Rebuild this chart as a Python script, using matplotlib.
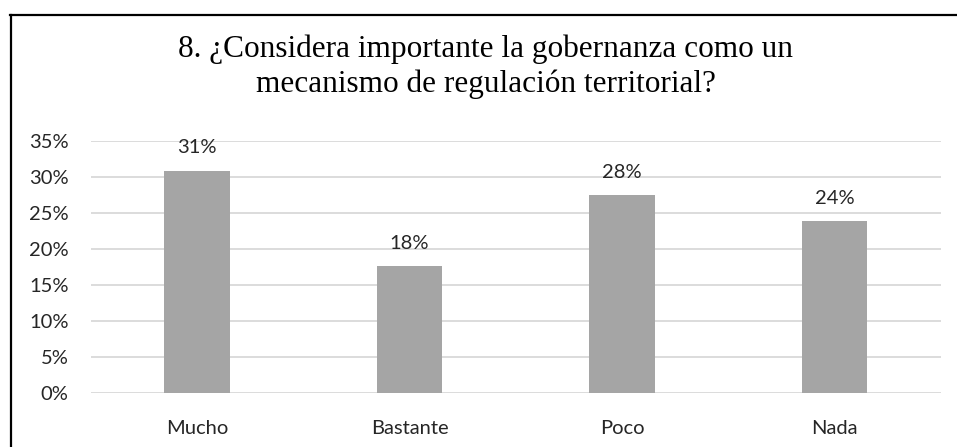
import matplotlib.pyplot as plt
from matplotlib.lines import Line2D

# datos de la encuesta (pregunta 8)
categorias = ["Mucho", "Bastante", "Poco", "Nada"]
porcentajes = [30.9, 17.6, 27.5, 23.9]
yticks = [0, 5, 10, 15, 20, 25, 30, 35]
titulo = ["8. ¿Considera importante la gobernanza como un",
          "mecanismo de regulación territorial?"]

W, H = 957, 447
fig = plt.figure(figsize=(W / 100, H / 100), dpi=100)
ax = fig.add_axes([90.7 / W, 1 - 393.3 / H, 850 / W, 252.3 / H])

x = range(len(categorias))
ax.bar(x, porcentajes, width=0.31, color="#A5A5A5", zorder=3)
for xi, v in zip(x, porcentajes):
    ax.annotate(f"{round(v)}%", (xi, v), xytext=(0, 23), textcoords="offset pixels",
                ha="center", va="center", fontsize=14.5, family="Lato", color="#262626")

ax.set_xlim(-0.5, len(categorias) - 0.5)
ax.set_ylim(0, 35)
ax.set_yticks(yticks)
ax.set_yticklabels([f"{t}%" for t in yticks])
ax.set_xticks(list(x))
ax.set_xticklabels(categorias)
ax.yaxis.grid(True, color="#D9D9D9", linewidth=1.3, zorder=0)
ax.tick_params(length=0, labelsize=14.5, labelcolor="#262626")
ax.tick_params(axis="y", pad=16)
ax.tick_params(axis="x", pad=19)
for lab in ax.get_xticklabels() + ax.get_yticklabels():
    lab.set_family("Lato")
for s in ax.spines.values():
    s.set_visible(False)

# título en dos líneas (líneas base medidas)
for linea, yb in zip(titulo, [56.7, 91.7]):
    fig.text(486 / W, 1 - yb / H, linea, ha="center", va="baseline", fontsize=22.5,
             family="Liberation Serif")

# marco del gráfico (cortado a la derecha y abajo)
fig.add_artist(Line2D([10.5 / W, 10.5 / W], [0, 1 - 15 / H], color="black", lw=1.6,
                      transform=fig.transFigure))
fig.add_artist(Line2D([10 / W, 1], [1 - 15 / H, 1 - 15 / H], color="black", lw=1.6,
                      transform=fig.transFigure))

fig.savefig("out.png", dpi=100)
